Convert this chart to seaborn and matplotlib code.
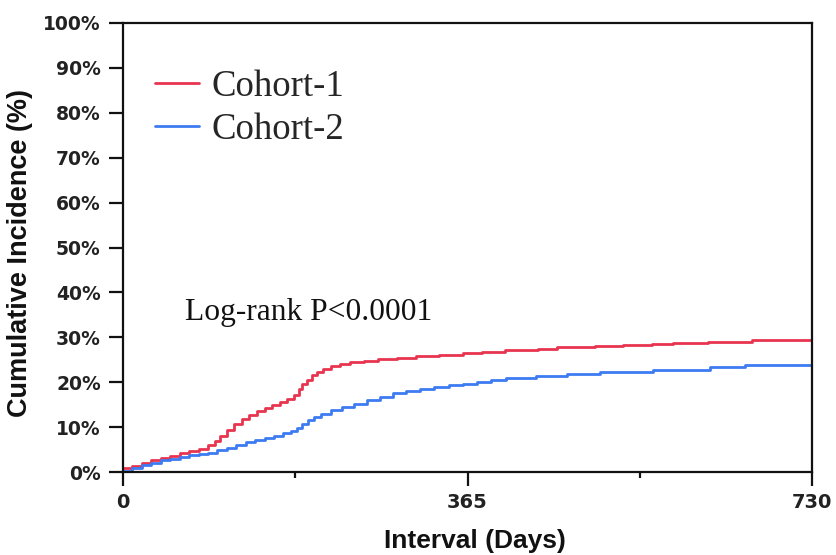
import numpy as np
import pandas as pd
import matplotlib
matplotlib.use("Agg")
import matplotlib.pyplot as plt
import seaborn as sns
from matplotlib.ticker import FixedLocator, FuncFormatter

# ---- data ----
cohort_names = ["Cohort-1", "Cohort-2"]

days_c1 = [0, 10, 20, 30, 40, 50, 60, 70, 80, 90, 97, 103, 110, 118, 126, 134, 142,
           150, 158, 166, 174, 181, 186, 190, 195, 200, 206, 212, 220, 230, 240, 255,
           270, 290, 310, 335, 360, 380, 405, 440, 460, 500, 530, 560, 583, 620, 666, 730]
ci_c1 = [0.8, 1.4, 2.0, 2.6, 3.1, 3.6, 4.2, 4.6, 5.2, 6.0, 6.9, 8.0, 9.3, 10.6, 11.8, 12.8, 13.6,
         14.3, 15.0, 15.6, 16.3, 17.2, 18.4, 19.6, 20.6, 21.5, 22.3, 22.9, 23.5, 24.0, 24.4, 24.8,
         25.1, 25.5, 25.8, 26.1, 26.4, 26.7, 27.2, 27.5, 27.8, 28.0, 28.3, 28.5, 28.8, 29.0, 29.4, 29.4]

days_c2 = [0, 10, 20, 30, 40, 50, 60, 70, 80, 90, 100, 110, 120, 130, 140, 150, 160, 170,
           178, 184, 190, 196, 202, 210, 220, 232, 245, 258, 272, 286, 300, 315, 330, 345,
           360, 375, 390, 406, 438, 470, 505, 562, 622, 659, 730]
ci_c2 = [0.3, 0.9, 1.5, 2.1, 2.6, 3.0, 3.4, 3.7, 4.0, 4.3, 4.8, 5.4, 6.0, 6.6, 7.1, 7.6, 8.1, 8.6,
         9.1, 9.8, 10.6, 11.5, 12.3, 13.0, 13.8, 14.5, 15.2, 16.0, 16.8, 17.6, 18.1, 18.5, 18.9, 19.3,
         19.7, 20.1, 20.5, 20.9, 21.4, 21.8, 22.2, 22.8, 23.4, 23.9, 24.3]

x_major = [0, 365, 730]
x_minor = [182.5, 547.5]
y_ticks = [0, 10, 20, 30, 40, 50, 60, 70, 80, 90, 100]

colors = {"Cohort-1": "#E8354F", "Cohort-2": "#3D7BF2"}

df = pd.concat([
    pd.DataFrame({"day": days_c1, "ci": ci_c1, "cohort": cohort_names[0]}),
    pd.DataFrame({"day": days_c2, "ci": ci_c2, "cohort": cohort_names[1]}),
], ignore_index=True)

sns.set_theme(style="white")
plt.rcParams["font.family"] = ["DejaVu Sans"]

fig = plt.figure(figsize=(8.36, 5.55), dpi=100)
ax = fig.add_axes([123/836, 1 - 472/555, 689/836, 449/555])

sns.lineplot(data=df, x="day", y="ci", hue="cohort", palette=colors,
             estimator=None, sort=False, drawstyle="steps-post",
             linewidth=2.0, ax=ax)

ax.set_xlim(0, 730)
ax.set_ylim(0, 100)

for s in ax.spines.values():
    s.set_color("#111111")
    s.set_linewidth(1.6)
    s.set_visible(True)

ax.xaxis.set_major_locator(FixedLocator(x_major))
ax.xaxis.set_minor_locator(FixedLocator(x_minor))
ax.yaxis.set_major_locator(FixedLocator(y_ticks))
ax.yaxis.set_major_formatter(FuncFormatter(lambda v, p: f"{int(v)}%"))

ax.tick_params(axis="x", which="major", direction="out", length=10, width=1.6,
               color="#111111", pad=5, labelsize=14, labelcolor="#222222",
               bottom=True)
ax.tick_params(axis="x", which="minor", direction="out", length=4, width=1.6,
               color="#111111", bottom=True)
ax.tick_params(axis="y", which="major", direction="out", length=10, width=1.6,
               color="#111111", pad=6, labelsize=13.5, labelcolor="#222222",
               left=True)
for lab in ax.get_xticklabels() + ax.get_yticklabels():
    lab.set_fontweight("bold")

ax.set_xlabel("Interval (Days)", fontsize=19, fontweight="bold",
              family=["Liberation Sans", "DejaVu Sans"], color="#111111")
ax.set_ylabel("Cumulative Incidence (%)", fontsize=19.5, fontweight="bold",
              family=["Liberation Sans", "DejaVu Sans"], color="#111111")
ax.xaxis.set_label_coords(0.511, -0.127)
ax.yaxis.set_label_coords(-0.131, 0.487)

handles, labels = ax.get_legend_handles_labels()
leg = ax.legend(handles, labels, loc="upper left", bbox_to_anchor=(0.02, 0.937),
                frameon=False, borderpad=0, handlelength=1.2, handletextpad=0.33,
                labelspacing=0.22,
                prop={"family": ["Liberation Serif"], "size": 26.5})
for h in leg.get_lines():
    h.set_linewidth(2.0)

ax.text(0.09, 0.355, "Log-rank P<0.0001", transform=ax.transAxes,
        fontsize=22.7, family=["Liberation Serif"], color="#111111",
        ha="left", va="center")

fig.savefig("out.png", dpi=100)
